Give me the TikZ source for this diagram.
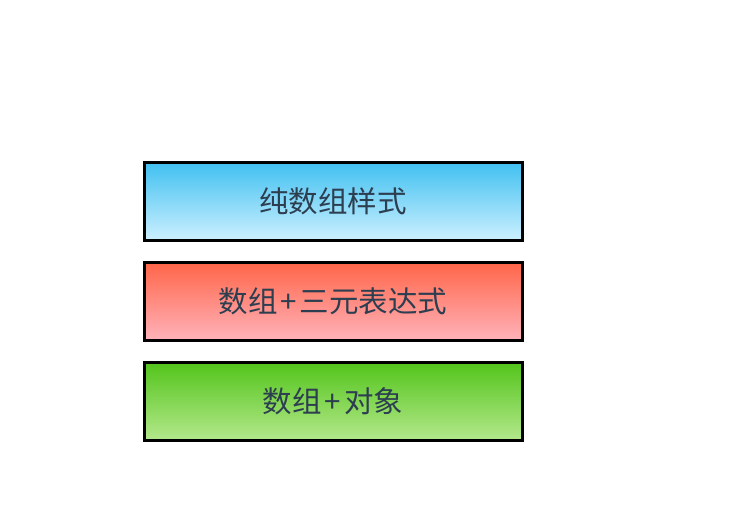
\documentclass[tikz,border=0pt]{standalone}
\usepackage{fontspec}
\newfontfamily\cjk{Noto Sans CJK SC}
\definecolor{txt}{HTML}{2C3E50}
\definecolor{bluetop}{HTML}{40C0F0}
\definecolor{bluebot}{HTML}{CCF0FF}
\definecolor{redtop}{HTML}{FF6548}
\definecolor{redbot}{HTML}{FFB2BA}
\definecolor{greentop}{HTML}{52C41A}
\definecolor{greenbot}{HTML}{B4E88C}
\newcommand{\pl}{\kern3pt+\kern3pt}
\tikzset{
  band/.style={draw=black, line width=3pt, minimum width=378pt, minimum height=78pt,
    inner sep=0pt, text=txt, font=\cjk\fontsize{29.5}{34}\selectfont, anchor=center}
}
\begin{document}
\begin{tikzpicture}[x=1pt,y=-1pt]
\useasboundingbox (0,0) rectangle (738,527);
\node[band, top color=bluetop, bottom color=bluebot] (b1) at (333,201) {纯数组样式};
\node[band, top color=redtop, bottom color=redbot] (b2) at (333,301) {数组\pl 三元表达式};
\node[band, top color=greentop, bottom color=greenbot] (b3) at (333,401) {数组\pl 对象};
\end{tikzpicture}
\end{document}
